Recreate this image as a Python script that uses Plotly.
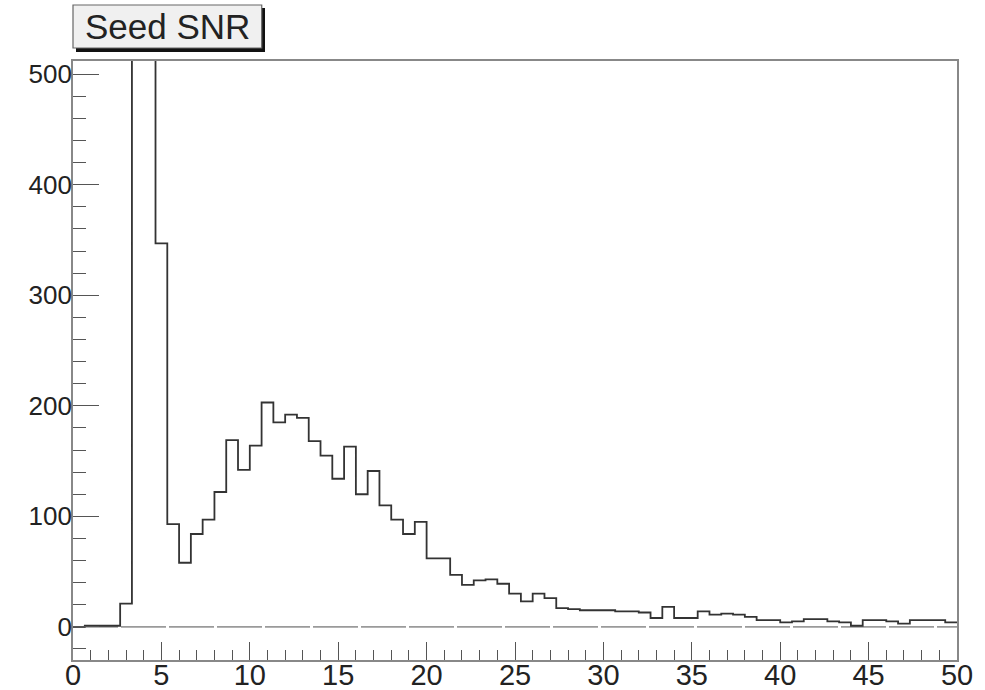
import numpy as np
import plotly.graph_objects as go

# Histogram "Seed SNR": 75 bins from 0 to 50
x_min, x_max, n_bins = 0.0, 50.0, 75
counts = [0, 1, 1, 1, 21, 1600, 1100, 347, 93, 58,
          84, 97, 122, 169, 142, 164, 203, 185, 192, 189,
          168, 155, 134, 163, 120, 141, 110, 97, 84, 95,
          62, 62, 47, 38, 42, 43, 39, 30, 23, 30,
          26, 17, 16, 15, 15, 15, 14, 14, 13, 8,
          18, 8, 8, 14, 11, 12, 11, 9, 6, 6,
          4, 5, 7, 7, 5, 4, 1, 6, 6, 5,
          3, 6, 6, 6, 4]
title_text = "Seed SNR"
x_ticks = [0, 5, 10, 15, 20, 25, 30, 35, 40, 45, 50]
y_ticks = [0, 100, 200, 300, 400, 500]

edges = np.linspace(x_min, x_max, n_bins + 1)
xs = list(edges)
ys = list(counts) + [counts[-1]]

fig = go.Figure()
# zero line
fig.add_trace(go.Scatter(x=[x_min, x_max], y=[0, 0], mode="lines",
                         line=dict(color="#9a9a9a", width=1.6, dash="45px,3px"),
                         hoverinfo="skip", showlegend=False))
fig.add_trace(go.Scatter(x=xs, y=ys, mode="lines", line_shape="hv",
                         line=dict(color="#333333", width=1.8),
                         showlegend=False, cliponaxis=True))

font_family = "Liberation Sans, Arial, sans-serif"
fig.update_layout(
    width=985, height=690,
    margin=dict(l=73, r=28, t=61, b=30),
    paper_bgcolor="white", plot_bgcolor="white",
    font=dict(family=font_family, color="#222222"),
    xaxis=dict(range=[x_min, x_max], tickvals=x_ticks, ticktext=[str(v) for v in x_ticks],
               ticks="inside", ticklen=18, tickwidth=1.3, tickcolor="#555555",
               minor=dict(dtick=1, tick0=0, ticks="inside", ticklen=10, tickwidth=1.3, tickcolor="#555555"),
               showgrid=False, zeroline=False, showline=True, linecolor="#888888",
               linewidth=1.6, mirror=True, automargin=False, ticklabelstandoff=-12,
               tickfont=dict(size=29, family=font_family, color="#222222")),
    yaxis=dict(range=[-30, 512], tickvals=y_ticks, ticktext=[str(v) for v in y_ticks],
               ticks="inside", ticklen=26, tickwidth=1.3, tickcolor="#555555",
               minor=dict(dtick=20, tick0=0, ticks="inside", ticklen=13, tickwidth=1.3, tickcolor="#555555"),
               showgrid=False, zeroline=False, showline=True, linecolor="#888888",
               linewidth=1.6, mirror=True, automargin=False, ticklabelstandoff=-6,
               tickfont=dict(size=26, family=font_family, color="#222222")),
)

# Title box with shadow (paper coordinates)
fig.add_shape(type="rect", xref="paper", yref="paper", x0=0.0034, x1=0.2172, y0=1.0150, y1=1.0885,
              fillcolor="#111111", line=dict(width=0), layer="above")
fig.add_shape(type="rect", xref="paper", yref="paper", x0=0.0, x1=0.2135, y0=1.0217, y1=1.0935,
              fillcolor="#f0f0f0", line=dict(color="#666666", width=1.2), layer="above")
fig.add_annotation(xref="paper", yref="paper", x=0.1068, y=1.0576, text=title_text,
                   showarrow=False, xanchor="center", yanchor="middle",
                   font=dict(size=35, family=font_family, color="#222222"))

fig.write_html("out.html")
